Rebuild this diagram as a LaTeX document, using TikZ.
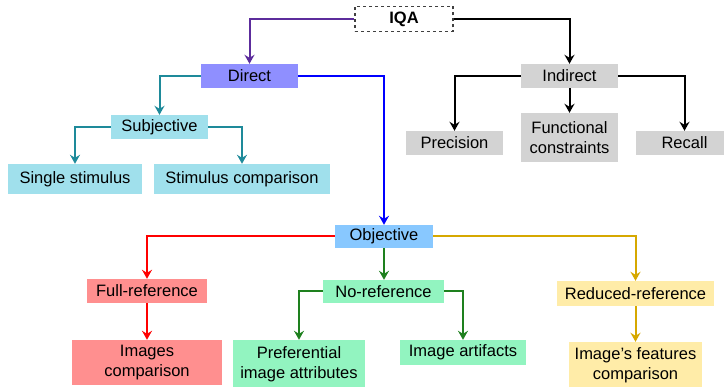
\documentclass[tikz,border=0pt]{standalone}
\usepackage{fontspec}
\setmainfont{Liberation Sans}
\usepackage{tikz}
\usetikzlibrary{arrows.meta}
\definecolor{directfill}{RGB}{143,143,255}
\definecolor{indirectfill}{RGB}{211,211,211}
\definecolor{subjfill}{RGB}{160,224,236}
\definecolor{objfill}{RGB}{136,200,255}
\definecolor{fullfill}{RGB}{255,143,143}
\definecolor{nofill}{RGB}{146,244,192}
\definecolor{redfill}{RGB}{255,236,168}
\definecolor{purpleline}{RGB}{92,44,156}
\definecolor{tealline}{RGB}{30,138,154}
\definecolor{greenline}{RGB}{30,128,30}
\definecolor{goldline}{RGB}{214,168,0}

\begin{document}
\begin{tikzpicture}[x=1pt,y=-1pt,
		box/.style={rectangle,inner sep=0pt,align=center,font=\fontsize{16.5}{20}\selectfont},
		link/.style={line width=2pt,-{Stealth[length=9pt,width=10pt,inset=3pt]}}]
			\useasboundingbox (0,0) rectangle (724,387);
			% top
			\node[box,draw=black!75,dashed,line width=1.2pt,fill=white,minimum width=98pt,minimum height=25pt,font=\fontsize{16.5}{20}\selectfont\bfseries] (iqa) at (404,19) {IQA};
			\node[box,fill=directfill,minimum width=97pt,minimum height=24pt] (direct) at (249.5,76) {Direct};
			\node[box,fill=indirectfill,minimum width=97pt,minimum height=24pt] (indirect) at (569.5,76) {Indirect};
			% direct side
			\node[box,fill=subjfill,minimum width=97pt,minimum height=24pt] (subj) at (159.5,127) {Subjective};
			\node[box,fill=subjfill,minimum width=134pt,minimum height=30pt] (single) at (75,179) {Single stimulus};
			\node[box,fill=subjfill,minimum width=176pt,minimum height=30pt] (stimcomp) at (242,179) {Stimulus comparison};
			% indirect side
			\node[box,fill=indirectfill,minimum width=97pt,minimum height=24pt] (precision) at (454.5,143) {Precision};
			\node[box,fill=indirectfill,minimum width=97pt,minimum height=49pt] (functional) at (569.5,137.5) {Functional\\constraints};
			\node[box,fill=indirectfill,minimum width=97pt,minimum height=24pt] (recall) at (684.5,143) {Recall};
			% objective
			\node[box,fill=objfill,minimum width=98pt,minimum height=23pt] (objective) at (384,236.5) {Objective};
			\node[box,fill=fullfill,minimum width=120pt,minimum height=24pt] (fullref) at (147,291) {Full-reference};
			\node[box,fill=fullfill,minimum width=150pt,minimum height=45pt] (imgcomp) at (147,362.5) {Images\\comparison};
			\node[box,fill=nofill,minimum width=121pt,minimum height=23pt] (noref) at (383.5,291.5) {No-reference};
			\node[box,fill=nofill,minimum width=132pt,minimum height=48pt] (pref) at (299,364) {Preferential\\image attributes};
			\node[box,fill=nofill,minimum width=126pt,minimum height=25pt] (artifacts) at (463,352.5) {Image artifacts};
			\node[box,fill=redfill,minimum width=157pt,minimum height=25pt] (reduced) at (635.5,293.5) {Reduced-reference};
			\node[box,fill=redfill,minimum width=133pt,minimum height=46pt] (features) at (635.5,365) {Image’s features\\comparison};

			\draw[link,purpleline] (iqa.west) -| (direct.north);
			\draw[link,black] (iqa.east) -| (indirect.north);
			\draw[link,tealline] (direct.west) -| (subj.north);
			\draw[link,tealline] (subj.west) -| (single.north);
			\draw[link,tealline] (subj.east) -| (stimcomp.north);
			\draw[link,black] (indirect.west) -| (precision.north);
			\draw[link,black] (indirect.south) -- (functional.north);
			\draw[link,black] (indirect.east) -| (recall.north);
			\draw[link,blue] (direct.east) -| (objective.north);
			\draw[link,red] (objective.west) -| (fullref.north);
			\draw[link,red] (fullref.south) -- (imgcomp.north);
			\draw[link,greenline] (objective.south) -- (objective.south |- noref.north);
			\draw[link,greenline] (noref.west) -| (pref.north);
			\draw[link,greenline] (noref.east) -| (artifacts.north);
			\draw[link,goldline] (objective.east) -| (reduced.north);
			\draw[link,goldline] (reduced.south) -- (features.north);
		\end{tikzpicture}
\end{document}
